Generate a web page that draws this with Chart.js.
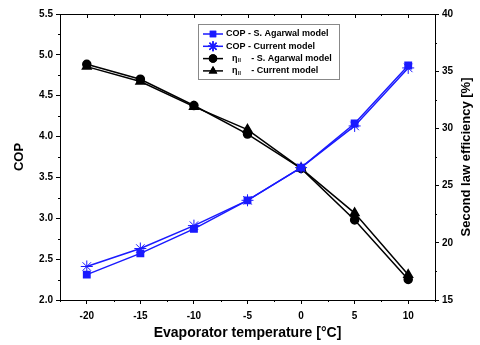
<!DOCTYPE html>
<html>
<head>
<meta charset="utf-8">
<script src="https://cdn.jsdelivr.net/npm/chart.js@4/dist/chart.umd.min.js"></script>
<style>
  html, body { margin: 0; padding: 0; background: #fff; }
  #wrap { width: 480px; height: 345px; position: relative; }
</style>
</head>
<body>
<div id="wrap"><canvas id="myChart"></canvas></div>
<script>
// values
const temps = [-20, -15, -10, -5, 0, 5, 10];
const copAgarwal = [2.31, 2.57, 2.87, 3.22, 3.62, 4.16, 4.87];
const copCurrent = [2.41, 2.63, 2.91, 3.22, 3.62, 4.13, 4.84];
const etaAgarwal = [35.6, 34.3, 32.0, 29.5, 26.5, 22.0, 16.8];
const etaCurrent = [35.4, 34.1, 31.9, 29.9, 26.5, 22.6, 17.2];
const xTicks = [-20, -15, -10, -5, 0, 5, 10];
const copTicks = [2.0, 2.5, 3.0, 3.5, 4.0, 4.5, 5.0, 5.5];
const etaTicks = [15, 20, 25, 30, 35, 40];

const blue = '#1a1aff';
const FONT = 'Arial, "Liberation Sans", sans-serif';

const pts = (ys) => temps.map((t, i) => ({x: t, y: ys[i]}));

const legendItems = [
    {pre: 'COP', sub: '', text: ' - S. Agarwal model', color: blue, style: 'rect'},
    {pre: 'COP', sub: '', text: ' - Current model', color: blue, style: 'star'},
    {pre: '\u03B7', sub: 'II', text: '  - S. Agarwal model', color: '#000', style: 'circle'},
    {pre: '\u03B7', sub: 'II', text: '  - Current model', color: '#000', style: 'triangle'}
];

// frame on top + minor ticks + right title + the boxed legend
const framePlugin = {
    id: 'frame',
    afterDraw(chart) {
        const {ctx, chartArea: a, scales} = chart;
        ctx.save();
        ctx.strokeStyle = '#000';
        ctx.lineWidth = 1;
        ctx.beginPath();
        ctx.moveTo(a.left, a.top + 0.5);
        ctx.lineTo(a.right, a.top + 0.5);
        // top ticks, inward
        for (let v = -22.5; v <= 12.5; v += 2.5) {
            const px = Math.round(scales.x.getPixelForValue(v)) + 0.5;
            const len = (v % 5 === 0) ? 4 : 2;
            ctx.moveTo(px, a.top);
            ctx.lineTo(px, a.top + len);
            if (v % 5 !== 0) {
                ctx.moveTo(px, a.bottom);
                ctx.lineTo(px, a.bottom + 2);
            }
        }
        for (let v = 2.25; v < 5.5; v += 0.5) {
            const py = Math.round(scales.y.getPixelForValue(v)) + 0.5;
            ctx.moveTo(a.left, py);
            ctx.lineTo(a.left - 2, py);
        }
        for (let v = 17.5; v < 40; v += 5) {
            const py = Math.round(scales.y1.getPixelForValue(v)) + 0.5;
            ctx.moveTo(a.right, py);
            ctx.lineTo(a.right + 2, py);
        }
        ctx.stroke();

        // right axis title, reading bottom to top
        ctx.save();
        ctx.translate(466, (a.top + a.bottom) / 2);
        ctx.rotate(-Math.PI / 2);
        ctx.fillStyle = '#000';
        ctx.font = 'bold 13px ' + FONT;
        ctx.textAlign = 'center';
        ctx.textBaseline = 'middle';
        ctx.fillText('Second law efficiency [%]', 0, 0);
        ctx.restore();

        // legend box
        const bx = 198.5, by = 24.5, bw = 141, bh = 55;
        ctx.strokeStyle = '#888';
        ctx.fillStyle = '#fff';
        ctx.fillRect(bx, by, bw, bh);
        ctx.strokeRect(bx, by, bw, bh);
        legendItems.forEach((it, i) => {
            const y = 34 + i * 12.3;
            ctx.strokeStyle = it.color;
            ctx.lineWidth = 1.5;
            ctx.beginPath();
            ctx.moveTo(203, y);
            ctx.lineTo(223, y);
            ctx.stroke();
            Chart.helpers.drawPoint(ctx, {
                pointStyle: it.style, radius: it.style === 'star' ? 5 : 3.5, rotation: 0, borderWidth: 1
            }, 213, y);
            ctx.fillStyle = it.color;
            ctx.strokeStyle = it.color;
            ctx.fill();
            ctx.stroke();
            ctx.fillStyle = '#000';
            ctx.textBaseline = 'middle';
            ctx.textAlign = 'left';
            let x = it.sub ? 232 : 226;
            ctx.font = 'bold 9px ' + FONT;
            ctx.fillText(it.pre, x, y);
            x += ctx.measureText(it.pre).width;
            if (it.sub) {
                ctx.font = 'bold 5px ' + FONT;
                ctx.fillText(it.sub, x + 0.5, y + 2.5);
                x += ctx.measureText(it.sub).width + 6;
                ctx.font = 'bold 9px ' + FONT;
            }
            ctx.fillText(it.text, x, y);
        });
        ctx.restore();
    }
};

const tickFont = {family: FONT, size: 10, weight: 'bold'};
const titleFont = {family: FONT, size: 13, weight: 'bold'};

new Chart(document.getElementById('myChart'), {
    type: 'line',
    data: {
        datasets: [
            {data: pts(copAgarwal), yAxisID: 'y', borderColor: blue, backgroundColor: blue,
             pointStyle: 'rect', pointRadius: 4.5, borderWidth: 1.5},
            {data: pts(copCurrent), yAxisID: 'y', borderColor: blue, backgroundColor: blue,
             pointStyle: 'star', pointRadius: 6, pointBorderWidth: 1, borderWidth: 1.5},
            {data: pts(etaAgarwal), yAxisID: 'y1', borderColor: '#000', backgroundColor: '#000',
             pointStyle: 'circle', pointRadius: 4, borderWidth: 1.5},
            {data: pts(etaCurrent), yAxisID: 'y1', borderColor: '#000', backgroundColor: '#000',
             pointStyle: 'triangle', pointRadius: 5, borderWidth: 1.5}
        ]
    },
    options: {
        responsive: true,
        maintainAspectRatio: false,
        animation: false,
        layout: {padding: {top: 14}},
        plugins: {legend: {display: false}, tooltip: {enabled: false}},
        scales: {
            x: {
                type: 'linear', min: -22.5, max: 12.5,
                afterBuildTicks: (s) => { s.ticks = xTicks.map(v => ({value: v})); },
                afterFit: (s) => { s.height = 45; },
                grid: {drawOnChartArea: false, tickLength: 4, color: '#000'},
                border: {color: '#000'},
                ticks: {color: '#000', font: tickFont, padding: 6, maxRotation: 0},
                title: {display: true, text: 'Evaporator temperature [\u00B0C]', color: '#000',
                        font: {family: FONT, size: 14, weight: 'bold'}, padding: {top: 0, bottom: 3}}
            },
            y: {
                position: 'left', min: 2.0, max: 5.5,
                afterBuildTicks: (s) => { s.ticks = copTicks.map(v => ({value: v})); },
                afterFit: (s) => { s.width = 60; },
                grid: {drawOnChartArea: false, tickLength: 4, color: '#000'},
                border: {color: '#000'},
                ticks: {color: '#000', font: tickFont, padding: 3, callback: v => v.toFixed(1)},
                title: {display: true, text: 'COP', color: '#000', font: titleFont, padding: {top: 12, bottom: 0}}
            },
            y1: {
                position: 'right', min: 15, max: 40,
                afterBuildTicks: (s) => { s.ticks = etaTicks.map(v => ({value: v})); },
                afterFit: (s) => { s.width = 45; },
                grid: {drawOnChartArea: false, tickLength: 4, color: '#000'},
                border: {color: '#000'},
                ticks: {color: '#000', font: tickFont, padding: 3}
            }
        }
    },
    plugins: [framePlugin]
});
</script>
</body>
</html>
